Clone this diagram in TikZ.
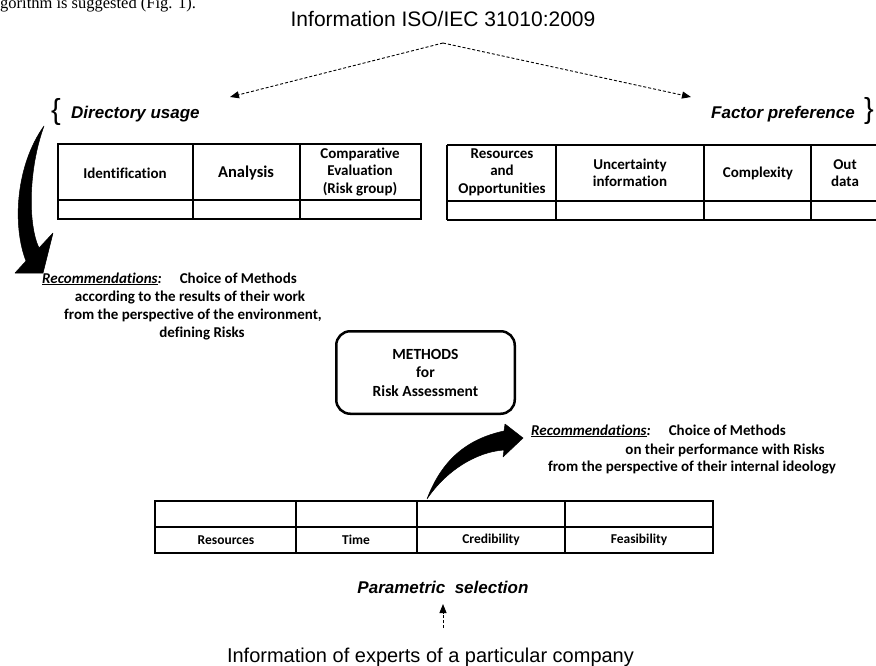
\documentclass[tikz,border=0pt]{standalone}
\usepackage{fontspec}
\setmainfont{Carlito}[Ligatures={NoCommon,NoContextual}]
\newfontfamily\arialf{Liberation Sans}
\newfontfamily\serifttl{Liberation Serif}
\usetikzlibrary{arrows.meta}
\begin{document}
\begin{tikzpicture}[x=1pt,y=-1pt,
  lbl/.style={font=\bfseries\fontsize{15}{17.5}\selectfont, align=center, inner sep=0},
  rec/.style={font=\bfseries\fontsize{15}{18}\selectfont, inner sep=0},
  hdr/.style={font=\arialf\bfseries\itshape\fontsize{17}{20}\selectfont, inner sep=0},
  tbl/.style={line width=1.2pt},
  dasharrow/.style={dash pattern=on 3pt off 2pt, line width=0.9pt, -{Triangle[length=9pt,width=7pt]}},
  bigarrow/.style={fill=black, draw=black, line width=0.5pt, line join=round}]
\useasboundingbox (0,0) rectangle (876,666);

% text cut at the top edge of the page
\node[font=\serifttl\fontsize{16.5}{18}\selectfont, anchor=base west, inner sep=0] (cut) at (0,9) {gorithm is suggested (Fig. 1).};

% title
\node[font=\arialf\fontsize{21}{25}\selectfont, anchor=base, inner sep=0] (title) at (443,27) {Information ISO/IEC 31010:2009};
\coordinate (apex) at (443,43);
\coordinate (du) at (230,97);
\coordinate (fp) at (691,97);
\draw[dasharrow] (apex) -- (du);
\draw[dasharrow] (apex) -- (fp);

% braces and headings
\node[font=\arialf\fontsize{29}{30}\selectfont, inner sep=0] (lbrace) at (56,112) {\{};
\node[font=\arialf\fontsize{29}{30}\selectfont, inner sep=0] (rbrace) at (869,111) {\}};
\node[hdr, anchor=base west] (dirusage) at (71,119) {Directory usage};
\node[hdr, anchor=base east] (factpref) at (855,119) {Factor preference};

% left table
\draw[tbl] (58,144) rectangle (421,219);
\draw[tbl] (58,200) -- (421,200);
\draw[tbl] (193,144) -- (193,219);
\draw[tbl] (300,144) -- (300,219);
\node[lbl] (ident) at (125,173) {Identification};
\node[lbl, font=\bfseries\fontsize{16.5}{19}\selectfont] (anal) at (246,173) {Analysis};
\node[lbl] (comp) at (360,172) {Comparative\\Evaluation\\(Risk group)};

% right table
\draw[tbl] (447,145) -- (880,145);
\draw[tbl] (447,220) -- (880,220);
\draw[tbl] (447,201) -- (880,201);
\draw[tbl] (447,145) -- (447,220);
\draw[tbl] (556,145) -- (556,220);
\draw[tbl] (704,145) -- (704,220);
\draw[tbl] (811,145) -- (811,220);
\node[lbl] (resopp) at (502,172) {Resources\\and\\Opportunities};
\node[lbl] (uncert) at (630,173) {Uncertainty\\information};
\node[lbl] (complex) at (758,173) {Complexity};
\node[lbl] (outdata) at (845,173) {Out\\data};

% big left arrow
\path[bigarrow] (44,126) .. controls (16,165) and (12,225) .. (26,261)
  -- (15,273) -- (43,273) -- (53,233) -- (39,248)
  .. controls (28,225) and (28,170) .. (44,126) -- cycle;

% recommendations 1
\node[rec, anchor=base west] (rec1a) at (42,283) {\underline{\textit{Recommendations}}\textit{:}\hspace{18pt}Choice of Methods};
\node[rec, anchor=base] (rec1b) at (190,301) {according to the results of their work};
\node[rec, anchor=base] (rec1c) at (193,319) {from the perspective of the environment,};
\node[rec, anchor=base] (rec1d) at (202,337) {defining Risks};

% methods box
\node[draw, line width=2.5pt, rounded corners=14pt, minimum width=178.5pt, minimum height=82.5pt,
  font=\bfseries\fontsize{15.5}{18.5}\selectfont, align=center] (methods) at (425.5,372.5) {METHODS\\for\\Risk Assessment};

% lower arrow
\path[bigarrow] (427,499) .. controls (440,465) and (462,440) .. (504,431)
  -- (505,424) -- (523,438) -- (503,457) -- (504,450)
  .. controls (475,452) and (445,472) .. (427,499) -- cycle;

% recommendations 2
\node[rec, anchor=base west] (rec2a) at (531,435) {\underline{\textit{Recommendations}}\textit{:}\hspace{18pt}Choice of Methods};
\node[rec, anchor=base] (rec2b) at (725,454) {on their performance with Risks};
\node[rec, anchor=base] (rec2c) at (692,471) {from the perspective of their internal ideology};

% bottom table
\draw[tbl] (155,501) rectangle (713,553);
\draw[tbl] (155,527) -- (713,527);
\draw[tbl] (296,501) -- (296,553);
\draw[tbl] (417,501) -- (417,553);
\draw[tbl] (565,501) -- (565,553);
\node[lbl, font=\bfseries\fontsize{13.5}{16}\selectfont] (res) at (226,540) {Resources};
\node[lbl, font=\bfseries\fontsize{13.5}{16}\selectfont] (time) at (356,540) {Time};
\node[lbl, font=\bfseries\fontsize{13.5}{16}\selectfont] (cred) at (491,540) {Credibility};
\node[lbl, font=\bfseries\fontsize{13.5}{16}\selectfont] (feas) at (639,540) {Feasibility};

% parametric selection
\node[hdr, anchor=base] (param) at (443,593) {Parametric\ \ selection};
\coordinate (psin) at (443,604);
\coordinate (exout) at (443,628);
\draw[dasharrow] (exout) -- (psin);
\node[font=\arialf\fontsize{20}{24}\selectfont, anchor=base, inner sep=0] (experts) at (430.5,662) {Information of experts of a particular company};
\end{tikzpicture}
\end{document}
